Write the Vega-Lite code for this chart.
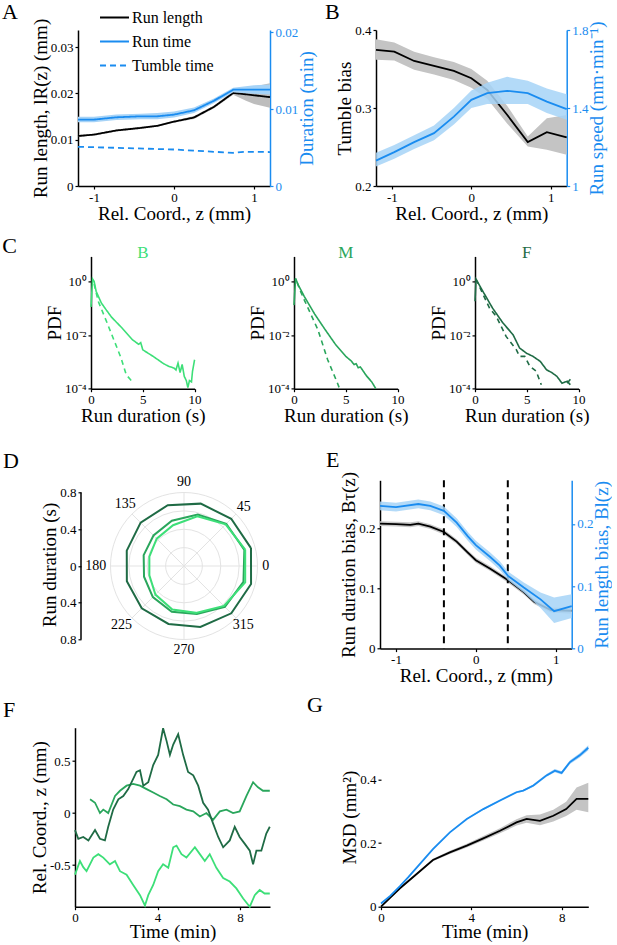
{
  "$schema": "https://vega.github.io/schema/vega-lite/v6.json",
  "padding": {"left": 2, "top": 0, "right": 0, "bottom": 0},
  "datasets": {
    "a": [
      {"s": "Run length", "x": -1.2, "y": 0.0108, "lo": 0.0106, "hi": 0.011},
      {"s": "Run length", "x": -1.0, "y": 0.0111, "lo": 0.0109, "hi": 0.0113},
      {"s": "Run length", "x": -0.72, "y": 0.012, "lo": 0.0118, "hi": 0.0122},
      {"s": "Run length", "x": -0.42, "y": 0.01254, "lo": 0.0123, "hi": 0.0128},
      {"s": "Run length", "x": -0.21, "y": 0.013, "lo": 0.0128, "hi": 0.0132},
      {"s": "Run length", "x": 0, "y": 0.0139, "lo": 0.0137, "hi": 0.0141},
      {"s": "Run length", "x": 0.25, "y": 0.0148, "lo": 0.0145, "hi": 0.0151},
      {"s": "Run length", "x": 0.5, "y": 0.0171, "lo": 0.0168, "hi": 0.0174},
      {"s": "Run length", "x": 0.74, "y": 0.0201, "lo": 0.0197, "hi": 0.0205},
      {"s": "Run length", "x": 0.9, "y": 0.0198, "lo": 0.0184, "hi": 0.021},
      {"s": "Run length", "x": 1.0, "y": 0.0196, "lo": 0.0177, "hi": 0.0215},
      {"s": "Run length", "x": 1.2, "y": 0.0192, "lo": 0.0169, "hi": 0.0222},
      {"s": "Run time", "x": -1.2, "y": 0.00864, "lo": 0.0083, "hi": 0.009},
      {"s": "Run time", "x": -1.0, "y": 0.00864, "lo": 0.0083, "hi": 0.009},
      {"s": "Run time", "x": -0.72, "y": 0.00894, "lo": 0.0086, "hi": 0.0093},
      {"s": "Run time", "x": -0.42, "y": 0.00907, "lo": 0.0087, "hi": 0.0094},
      {"s": "Run time", "x": -0.21, "y": 0.00907, "lo": 0.0087, "hi": 0.0095},
      {"s": "Run time", "x": 0, "y": 0.00929, "lo": 0.0089, "hi": 0.0097},
      {"s": "Run time", "x": 0.25, "y": 0.00985, "lo": 0.0095, "hi": 0.0102},
      {"s": "Run time", "x": 0.5, "y": 0.0111, "lo": 0.0108, "hi": 0.0114},
      {"s": "Run time", "x": 0.74, "y": 0.01253, "lo": 0.0122, "hi": 0.0128},
      {"s": "Run time", "x": 1.0, "y": 0.01253, "lo": 0.012, "hi": 0.0131},
      {"s": "Run time", "x": 1.2, "y": 0.01253, "lo": 0.0119, "hi": 0.0132},
      {"s": "Tumble time", "x": -1.2, "y": 0.0051},
      {"s": "Tumble time", "x": -0.72, "y": 0.00497},
      {"s": "Tumble time", "x": 0, "y": 0.00475},
      {"s": "Tumble time", "x": 0.5, "y": 0.00445},
      {"s": "Tumble time", "x": 0.74, "y": 0.00432},
      {"s": "Tumble time", "x": 0.9, "y": 0.00445},
      {"s": "Tumble time", "x": 1.2, "y": 0.00442}
    ],
    "b": [
      {"s": "bias", "x": -1.2, "y": 0.3744, "lo": 0.362, "hi": 0.388},
      {"s": "bias", "x": -0.97, "y": 0.3723, "lo": 0.361, "hi": 0.384},
      {"s": "bias", "x": -0.72, "y": 0.3603, "lo": 0.349, "hi": 0.372},
      {"s": "bias", "x": -0.47, "y": 0.354, "lo": 0.343, "hi": 0.365},
      {"s": "bias", "x": -0.22, "y": 0.3476, "lo": 0.336, "hi": 0.359},
      {"s": "bias", "x": 0, "y": 0.3382, "lo": 0.326, "hi": 0.35},
      {"s": "bias", "x": 0.2, "y": 0.3232, "lo": 0.312, "hi": 0.335},
      {"s": "bias", "x": 0.45, "y": 0.2913, "lo": 0.28, "hi": 0.303},
      {"s": "bias", "x": 0.71, "y": 0.2563, "lo": 0.2507, "hi": 0.2635},
      {"s": "bias", "x": 0.95, "y": 0.2691, "lo": 0.2465, "hi": 0.287},
      {"s": "bias", "x": 1.2, "y": 0.2623, "lo": 0.24, "hi": 0.291},
      {"s": "speed", "x": -1.2, "y": 1.13, "lo": 1.1, "hi": 1.17},
      {"s": "speed", "x": -0.97, "y": 1.174, "lo": 1.14, "hi": 1.21},
      {"s": "speed", "x": -0.72, "y": 1.225, "lo": 1.19, "hi": 1.26},
      {"s": "speed", "x": -0.47, "y": 1.271, "lo": 1.235, "hi": 1.31},
      {"s": "speed", "x": -0.22, "y": 1.356, "lo": 1.315, "hi": 1.4},
      {"s": "speed", "x": 0, "y": 1.442, "lo": 1.4, "hi": 1.49},
      {"s": "speed", "x": 0.2, "y": 1.476, "lo": 1.42, "hi": 1.53},
      {"s": "speed", "x": 0.45, "y": 1.488, "lo": 1.42, "hi": 1.56},
      {"s": "speed", "x": 0.71, "y": 1.476, "lo": 1.42, "hi": 1.54},
      {"s": "speed", "x": 0.95, "y": 1.433, "lo": 1.375, "hi": 1.5},
      {"s": "speed", "x": 1.2, "y": 1.394, "lo": 1.34, "hi": 1.47}
    ],
    "c": [
      {"z": "B", "k": "run", "g": 1, "x": 0, "p": 0.11},
      {"z": "B", "k": "run", "g": 1, "x": 0.15, "p": 1.22},
      {"z": "B", "k": "run", "g": 1, "x": 0.3, "p": 1.0},
      {"z": "B", "k": "run", "g": 1, "x": 0.5, "p": 0.42},
      {"z": "B", "k": "run", "g": 1, "x": 1, "p": 0.156},
      {"z": "B", "k": "run", "g": 1, "x": 1.5, "p": 0.083},
      {"z": "B", "k": "run", "g": 1, "x": 2, "p": 0.0455},
      {"z": "B", "k": "run", "g": 1, "x": 3, "p": 0.0182},
      {"z": "B", "k": "run", "g": 1, "x": 4, "p": 0.0067},
      {"z": "B", "k": "run", "g": 1, "x": 4.6, "p": 0.0045},
      {"z": "B", "k": "run", "g": 1, "x": 4.8, "p": 0.0052},
      {"z": "B", "k": "run", "g": 1, "x": 5, "p": 0.0028},
      {"z": "B", "k": "run", "g": 1, "x": 6, "p": 0.0016},
      {"z": "B", "k": "run", "g": 1, "x": 7, "p": 0.00086},
      {"z": "B", "k": "run", "g": 1, "x": 7.5, "p": 0.00068},
      {"z": "B", "k": "run", "g": 1, "x": 8, "p": 0.00059},
      {"z": "B", "k": "run", "g": 1, "x": 8.2, "p": 0.0005},
      {"z": "B", "k": "run", "g": 1, "x": 8.4, "p": 0.0009},
      {"z": "B", "k": "run", "g": 1, "x": 8.6, "p": 0.0004},
      {"z": "B", "k": "run", "g": 1, "x": 8.8, "p": 0.0008},
      {"z": "B", "k": "run", "g": 1, "x": 9.0, "p": 0.00029},
      {"z": "B", "k": "run", "g": 1, "x": 9.2, "p": 0.0002},
      {"z": "B", "k": "run", "g": 1, "x": 9.35, "p": 0.00011},
      {"z": "B", "k": "run", "g": 1, "x": 9.5, "p": 0.0002},
      {"z": "B", "k": "run", "g": 1, "x": 9.7, "p": 0.00018},
      {"z": "B", "k": "run", "g": 1, "x": 9.8, "p": 0.00045},
      {"z": "B", "k": "run", "g": 1, "x": 10, "p": 0.0012},
      {"z": "B", "k": "tumble", "g": 2, "x": 0.3, "p": 0.8},
      {"z": "B", "k": "tumble", "g": 2, "x": 0.7, "p": 0.18},
      {"z": "B", "k": "tumble", "g": 2, "x": 1.5, "p": 0.032},
      {"z": "B", "k": "tumble", "g": 2, "x": 2.2, "p": 0.0067},
      {"z": "B", "k": "tumble", "g": 2, "x": 2.9, "p": 0.0014},
      {"z": "B", "k": "tumble", "g": 2, "x": 3.4, "p": 0.00033},
      {"z": "B", "k": "tumble", "g": 2, "x": 3.8, "p": 0.00022},
      {"z": "B", "k": "tumble", "g": 2, "x": 4.1, "p": 0.00016},
      {"z": "M", "k": "run", "g": 1, "x": 0, "p": 0.13},
      {"z": "M", "k": "run", "g": 1, "x": 0.15, "p": 1.3},
      {"z": "M", "k": "run", "g": 1, "x": 0.4, "p": 0.75},
      {"z": "M", "k": "run", "g": 1, "x": 1, "p": 0.27},
      {"z": "M", "k": "run", "g": 1, "x": 2, "p": 0.06},
      {"z": "M", "k": "run", "g": 1, "x": 3, "p": 0.016},
      {"z": "M", "k": "run", "g": 1, "x": 4, "p": 0.0045},
      {"z": "M", "k": "run", "g": 1, "x": 5, "p": 0.0016},
      {"z": "M", "k": "run", "g": 1, "x": 5.5, "p": 0.0011},
      {"z": "M", "k": "run", "g": 1, "x": 5.8, "p": 0.0008},
      {"z": "M", "k": "run", "g": 1, "x": 6.0, "p": 0.00085},
      {"z": "M", "k": "run", "g": 1, "x": 6.2, "p": 0.0006},
      {"z": "M", "k": "run", "g": 1, "x": 6.4, "p": 0.00065},
      {"z": "M", "k": "run", "g": 1, "x": 7, "p": 0.0003},
      {"z": "M", "k": "run", "g": 1, "x": 7.5, "p": 0.00018},
      {"z": "M", "k": "run", "g": 1, "x": 7.9, "p": 0.0001},
      {"z": "M", "k": "tumble", "g": 2, "x": 0.3, "p": 0.9},
      {"z": "M", "k": "tumble", "g": 2, "x": 0.6, "p": 0.45},
      {"z": "M", "k": "tumble", "g": 2, "x": 1, "p": 0.2},
      {"z": "M", "k": "tumble", "g": 2, "x": 2.3, "p": 0.016},
      {"z": "M", "k": "tumble", "g": 2, "x": 3.25, "p": 0.0012},
      {"z": "M", "k": "tumble", "g": 2, "x": 4.2, "p": 0.00016},
      {"z": "M", "k": "tumble", "g": 2, "x": 4.4, "p": 0.0001},
      {"z": "F", "k": "run", "g": 1, "x": 0, "p": 0.18},
      {"z": "F", "k": "run", "g": 1, "x": 0.1, "p": 1.2},
      {"z": "F", "k": "run", "g": 1, "x": 0.75, "p": 0.43},
      {"z": "F", "k": "run", "g": 1, "x": 1.7, "p": 0.1},
      {"z": "F", "k": "run", "g": 1, "x": 2.7, "p": 0.028},
      {"z": "F", "k": "run", "g": 1, "x": 3.67, "p": 0.0103},
      {"z": "F", "k": "run", "g": 1, "x": 4.3, "p": 0.0033},
      {"z": "F", "k": "run", "g": 1, "x": 4.97, "p": 0.0021},
      {"z": "F", "k": "run", "g": 1, "x": 5.6, "p": 0.0016},
      {"z": "F", "k": "run", "g": 1, "x": 6.3, "p": 0.00104},
      {"z": "F", "k": "run", "g": 1, "x": 6.9, "p": 0.00051},
      {"z": "F", "k": "run", "g": 1, "x": 7.4, "p": 0.0004},
      {"z": "F", "k": "run", "g": 1, "x": 7.9, "p": 0.00029},
      {"z": "F", "k": "run", "g": 1, "x": 8.4, "p": 0.00016},
      {"z": "F", "k": "run", "g": 1, "x": 8.9, "p": 0.00019},
      {"z": "F", "k": "run", "g": 1, "x": 9.2, "p": 0.00014},
      {"z": "F", "k": "tumble", "g": 2, "x": 0.1, "p": 1.2},
      {"z": "F", "k": "tumble", "g": 2, "x": 1.4, "p": 0.1},
      {"z": "F", "k": "tumble", "g": 2, "x": 2.05, "p": 0.05},
      {"z": "F", "k": "tumble", "g": 2, "x": 3.0, "p": 0.0089},
      {"z": "F", "k": "tumble", "g": 2, "x": 4.0, "p": 0.0028},
      {"z": "F", "k": "tumble", "g": 2, "x": 4.3, "p": 0.0016},
      {"z": "F", "k": "tumble", "g": 2, "x": 4.8, "p": 0.0016},
      {"z": "F", "k": "tumble", "g": 2, "x": 5.3, "p": 0.00068},
      {"z": "F", "k": "tumble", "g": 2, "x": 5.9, "p": 0.00045},
      {"z": "F", "k": "tumble", "g": 2, "x": 6.4, "p": 0.00014},
      {"z": "F", "k": "tumble", "g": 3, "x": 8.9, "p": 0.00016},
      {"z": "F", "k": "tumble", "g": 3, "x": 9.45, "p": 0.00029}
    ],
    "d_grid": [{"r": 0.2}, {"r": 0.4}, {"r": 0.6}, {"r": 0.8}],
    "d_spoke": [
      {"x": -0.8, "y": 0, "x2": 0.8, "y2": 0},
      {"x": 0, "y": -0.8, "x2": 0, "y2": 0.8},
      {"x": -0.566, "y": -0.566, "x2": 0.566, "y2": 0.566},
      {"x": -0.566, "y": 0.566, "x2": 0.566, "y2": -0.566}
    ],
    "d_poly": [
      {"z": "F", "k": 0, "x": 0.729, "y": 0.195}, {"z": "F", "k": 1, "x": 0.514, "y": 0.514},
      {"z": "F", "k": 2, "x": 0.182, "y": 0.679}, {"z": "F", "k": 3, "x": -0.177, "y": 0.662},
      {"z": "F", "k": 4, "x": -0.472, "y": 0.472}, {"z": "F", "k": 5, "x": -0.623, "y": 0.167},
      {"z": "F", "k": 6, "x": -0.622, "y": -0.167}, {"z": "F", "k": 7, "x": -0.46, "y": -0.46},
      {"z": "F", "k": 8, "x": -0.169, "y": -0.631}, {"z": "F", "k": 9, "x": 0.178, "y": -0.664},
      {"z": "F", "k": 10, "x": 0.515, "y": -0.515}, {"z": "F", "k": 11, "x": 0.73, "y": -0.196},
      {"z": "F", "k": 12, "x": 0.729, "y": 0.195},
      {"z": "M", "k": 0, "x": 0.657, "y": 0.176}, {"z": "M", "k": 1, "x": 0.46, "y": 0.46},
      {"z": "M", "k": 2, "x": 0.15, "y": 0.56}, {"z": "M", "k": 3, "x": -0.132, "y": 0.493},
      {"z": "M", "k": 4, "x": -0.332, "y": 0.332}, {"z": "M", "k": 5, "x": -0.439, "y": 0.118},
      {"z": "M", "k": 6, "x": -0.435, "y": -0.116}, {"z": "M", "k": 7, "x": -0.339, "y": -0.339},
      {"z": "M", "k": 8, "x": -0.133, "y": -0.497}, {"z": "M", "k": 9, "x": 0.14, "y": -0.522},
      {"z": "M", "k": 10, "x": 0.445, "y": -0.445}, {"z": "M", "k": 11, "x": 0.647, "y": -0.173},
      {"z": "M", "k": 12, "x": 0.657, "y": 0.176},
      {"z": "B", "k": 0, "x": 0.666, "y": 0.179}, {"z": "B", "k": 1, "x": 0.453, "y": 0.453},
      {"z": "B", "k": 2, "x": 0.145, "y": 0.541}, {"z": "B", "k": 3, "x": -0.119, "y": 0.444},
      {"z": "B", "k": 4, "x": -0.297, "y": 0.297}, {"z": "B", "k": 5, "x": -0.377, "y": 0.101},
      {"z": "B", "k": 6, "x": -0.377, "y": -0.101}, {"z": "B", "k": 7, "x": -0.311, "y": -0.311},
      {"z": "B", "k": 8, "x": -0.127, "y": -0.473}, {"z": "B", "k": 9, "x": 0.13, "y": -0.51},
      {"z": "B", "k": 10, "x": 0.435, "y": -0.435}, {"z": "B", "k": 11, "x": 0.666, "y": -0.179},
      {"z": "B", "k": 12, "x": 0.666, "y": 0.179}
    ],
    "d_lab": [
      {"a": "0", "x": 0.89, "y": 0}, {"a": "45", "x": 0.65, "y": 0.64},
      {"a": "90", "x": 0, "y": 0.91}, {"a": "135", "x": -0.64, "y": 0.68},
      {"a": "180", "x": -0.96, "y": 0}, {"a": "225", "x": -0.68, "y": -0.645},
      {"a": "270", "x": 0, "y": -0.91}, {"a": "315", "x": 0.645, "y": -0.645}
    ],
    "e": [
      {"s": "dur", "x": -1.2, "y": 0.208, "lo": 0.204, "hi": 0.212},
      {"s": "dur", "x": -1.0, "y": 0.207, "lo": 0.203, "hi": 0.211},
      {"s": "dur", "x": -0.82, "y": 0.206, "lo": 0.202, "hi": 0.21},
      {"s": "dur", "x": -0.72, "y": 0.208, "lo": 0.204, "hi": 0.212},
      {"s": "dur", "x": -0.57, "y": 0.203, "lo": 0.199, "hi": 0.207},
      {"s": "dur", "x": -0.4, "y": 0.194, "lo": 0.19, "hi": 0.198},
      {"s": "dur", "x": -0.24, "y": 0.178, "lo": 0.174, "hi": 0.182},
      {"s": "dur", "x": -0.11, "y": 0.161, "lo": 0.157, "hi": 0.165},
      {"s": "dur", "x": 0, "y": 0.147, "lo": 0.143, "hi": 0.151},
      {"s": "dur", "x": 0.18, "y": 0.133, "lo": 0.129, "hi": 0.137},
      {"s": "dur", "x": 0.4, "y": 0.114, "lo": 0.11, "hi": 0.118},
      {"s": "dur", "x": 0.6, "y": 0.094, "lo": 0.09, "hi": 0.098},
      {"s": "dur", "x": 0.73, "y": 0.078, "lo": 0.074, "hi": 0.082},
      {"s": "dur", "x": 0.94, "y": 0.064, "lo": 0.06, "hi": 0.068},
      {"s": "dur", "x": 1.2, "y": 0.063, "lo": 0.058, "hi": 0.068},
      {"s": "len", "x": -1.2, "y": 0.229, "lo": 0.222, "hi": 0.236},
      {"s": "len", "x": -1.0, "y": 0.227, "lo": 0.22, "hi": 0.234},
      {"s": "len", "x": -0.72, "y": 0.232, "lo": 0.225, "hi": 0.239},
      {"s": "len", "x": -0.57, "y": 0.229, "lo": 0.222, "hi": 0.236},
      {"s": "len", "x": -0.4, "y": 0.221, "lo": 0.214, "hi": 0.228},
      {"s": "len", "x": -0.24, "y": 0.202, "lo": 0.195, "hi": 0.209},
      {"s": "len", "x": -0.1, "y": 0.18, "lo": 0.173, "hi": 0.187},
      {"s": "len", "x": 0, "y": 0.166, "lo": 0.159, "hi": 0.173},
      {"s": "len", "x": 0.18, "y": 0.147, "lo": 0.14, "hi": 0.154},
      {"s": "len", "x": 0.3, "y": 0.133, "lo": 0.126, "hi": 0.14},
      {"s": "len", "x": 0.4, "y": 0.117, "lo": 0.11, "hi": 0.124},
      {"s": "len", "x": 0.6, "y": 0.098, "lo": 0.09, "hi": 0.106},
      {"s": "len", "x": 0.81, "y": 0.079, "lo": 0.065, "hi": 0.09},
      {"s": "len", "x": 0.98, "y": 0.06, "lo": 0.041, "hi": 0.082},
      {"s": "len", "x": 1.2, "y": 0.068, "lo": 0.049, "hi": 0.087}
    ],
    "e_div": [{"x": -0.4}, {"x": 0.4}],
    "f": [
      {"z": "B", "t": 0, "y": -0.592}, {"z": "B", "t": 0.24, "y": -0.461}, {"z": "B", "t": 0.4, "y": -0.52},
      {"z": "B", "t": 0.56, "y": -0.559}, {"z": "B", "t": 0.89, "y": -0.428}, {"z": "B", "t": 1.13, "y": -0.395},
      {"z": "B", "t": 1.37, "y": -0.428}, {"z": "B", "t": 1.69, "y": -0.493}, {"z": "B", "t": 1.94, "y": -0.461},
      {"z": "B", "t": 2.18, "y": -0.559}, {"z": "B", "t": 2.5, "y": -0.592}, {"z": "B", "t": 2.82, "y": -0.691},
      {"z": "B", "t": 3.15, "y": -0.789}, {"z": "B", "t": 3.39, "y": -0.888}, {"z": "B", "t": 3.55, "y": -0.789},
      {"z": "B", "t": 3.79, "y": -0.691}, {"z": "B", "t": 4.03, "y": -0.559}, {"z": "B", "t": 4.27, "y": -0.493},
      {"z": "B", "t": 4.52, "y": -0.526}, {"z": "B", "t": 4.76, "y": -0.329}, {"z": "B", "t": 4.92, "y": -0.313},
      {"z": "B", "t": 5.16, "y": -0.395}, {"z": "B", "t": 5.4, "y": -0.428}, {"z": "B", "t": 5.81, "y": -0.329},
      {"z": "B", "t": 6.05, "y": -0.395}, {"z": "B", "t": 6.29, "y": -0.461}, {"z": "B", "t": 6.53, "y": -0.395},
      {"z": "B", "t": 6.85, "y": -0.526}, {"z": "B", "t": 7.18, "y": -0.625}, {"z": "B", "t": 7.5, "y": -0.658},
      {"z": "B", "t": 7.82, "y": -0.724}, {"z": "B", "t": 8.15, "y": -0.822}, {"z": "B", "t": 8.47, "y": -0.9},
      {"z": "B", "t": 8.71, "y": -0.789}, {"z": "B", "t": 8.95, "y": -0.74}, {"z": "B", "t": 9.19, "y": -0.773},
      {"z": "B", "t": 9.44, "y": -0.773},
      {"z": "M", "t": 0.73, "y": 0.132}, {"z": "M", "t": 0.97, "y": 0.099}, {"z": "M", "t": 1.21, "y": 0.0},
      {"z": "M", "t": 1.37, "y": 0.033}, {"z": "M", "t": 1.61, "y": 0}, {"z": "M", "t": 1.94, "y": 0.164},
      {"z": "M", "t": 2.18, "y": 0.214}, {"z": "M", "t": 2.5, "y": 0.263}, {"z": "M", "t": 2.82, "y": 0.28},
      {"z": "M", "t": 3.15, "y": 0.263}, {"z": "M", "t": 3.47, "y": 0.23}, {"z": "M", "t": 3.79, "y": 0.197},
      {"z": "M", "t": 4.11, "y": 0.164}, {"z": "M", "t": 4.44, "y": 0.132}, {"z": "M", "t": 4.76, "y": 0.082},
      {"z": "M", "t": 5.08, "y": 0.066}, {"z": "M", "t": 5.4, "y": 0.033}, {"z": "M", "t": 5.73, "y": 0.016},
      {"z": "M", "t": 6.05, "y": -0.033}, {"z": "M", "t": 6.37, "y": 0}, {"z": "M", "t": 6.69, "y": -0.066},
      {"z": "M", "t": 7.02, "y": 0.016}, {"z": "M", "t": 7.34, "y": 0.033}, {"z": "M", "t": 7.66, "y": 0},
      {"z": "M", "t": 7.98, "y": 0.016}, {"z": "M", "t": 8.31, "y": 0.164}, {"z": "M", "t": 8.63, "y": 0.296},
      {"z": "M", "t": 8.87, "y": 0.247}, {"z": "M", "t": 9.11, "y": 0.214}, {"z": "M", "t": 9.44, "y": 0.214},
      {"z": "F", "t": 0, "y": -0.164}, {"z": "F", "t": 0.16, "y": -0.247}, {"z": "F", "t": 0.4, "y": -0.23},
      {"z": "F", "t": 0.65, "y": -0.263}, {"z": "F", "t": 0.97, "y": -0.164}, {"z": "F", "t": 1.21, "y": -0.247},
      {"z": "F", "t": 1.45, "y": -0.263}, {"z": "F", "t": 1.61, "y": -0.132}, {"z": "F", "t": 1.85, "y": 0.033},
      {"z": "F", "t": 2.1, "y": 0.132}, {"z": "F", "t": 2.34, "y": 0.164}, {"z": "F", "t": 2.58, "y": 0.23},
      {"z": "F", "t": 2.82, "y": 0.329}, {"z": "F", "t": 2.98, "y": 0.395}, {"z": "F", "t": 3.15, "y": 0.411},
      {"z": "F", "t": 3.31, "y": 0.263}, {"z": "F", "t": 3.55, "y": 0.296}, {"z": "F", "t": 3.79, "y": 0.461},
      {"z": "F", "t": 4.03, "y": 0.559}, {"z": "F", "t": 4.27, "y": 0.815}, {"z": "F", "t": 4.44, "y": 0.691},
      {"z": "F", "t": 4.6, "y": 0.559}, {"z": "F", "t": 4.76, "y": 0.658}, {"z": "F", "t": 5.0, "y": 0.757},
      {"z": "F", "t": 5.24, "y": 0.559}, {"z": "F", "t": 5.48, "y": 0.395}, {"z": "F", "t": 5.73, "y": 0.362},
      {"z": "F", "t": 5.97, "y": 0.263}, {"z": "F", "t": 6.21, "y": 0.099}, {"z": "F", "t": 6.45, "y": 0.033},
      {"z": "F", "t": 6.69, "y": -0.099}, {"z": "F", "t": 6.94, "y": -0.23}, {"z": "F", "t": 7.18, "y": -0.329},
      {"z": "F", "t": 7.5, "y": -0.263}, {"z": "F", "t": 7.74, "y": -0.132}, {"z": "F", "t": 7.98, "y": -0.23},
      {"z": "F", "t": 8.23, "y": -0.296}, {"z": "F", "t": 8.47, "y": -0.362}, {"z": "F", "t": 8.63, "y": -0.493},
      {"z": "F", "t": 8.79, "y": -0.362}, {"z": "F", "t": 9.03, "y": -0.362}, {"z": "F", "t": 9.27, "y": -0.197},
      {"z": "F", "t": 9.44, "y": -0.132}
    ],
    "g": [
      {"s": "len", "t": 0, "y": 0.01, "lo": 0.008, "hi": 0.012},
      {"s": "len", "t": 0.42, "y": 0.035, "lo": 0.033, "hi": 0.037},
      {"s": "len", "t": 0.84, "y": 0.065, "lo": 0.063, "hi": 0.067},
      {"s": "len", "t": 1.2, "y": 0.092, "lo": 0.09, "hi": 0.094},
      {"s": "len", "t": 1.58, "y": 0.123, "lo": 0.121, "hi": 0.125},
      {"s": "len", "t": 2.3, "y": 0.181, "lo": 0.179, "hi": 0.183},
      {"s": "len", "t": 3.05, "y": 0.234, "lo": 0.232, "hi": 0.236},
      {"s": "len", "t": 3.8, "y": 0.276, "lo": 0.274, "hi": 0.278},
      {"s": "len", "t": 4.53, "y": 0.307, "lo": 0.304, "hi": 0.31},
      {"s": "len", "t": 5.27, "y": 0.334, "lo": 0.331, "hi": 0.337},
      {"s": "len", "t": 6.0, "y": 0.36, "lo": 0.357, "hi": 0.363},
      {"s": "len", "t": 6.3, "y": 0.365, "lo": 0.362, "hi": 0.368},
      {"s": "len", "t": 6.75, "y": 0.381, "lo": 0.377, "hi": 0.385},
      {"s": "len", "t": 7.33, "y": 0.413, "lo": 0.409, "hi": 0.417},
      {"s": "len", "t": 7.7, "y": 0.428, "lo": 0.423, "hi": 0.433},
      {"s": "len", "t": 8.0, "y": 0.421, "lo": 0.416, "hi": 0.426},
      {"s": "len", "t": 8.37, "y": 0.455, "lo": 0.449, "hi": 0.461},
      {"s": "len", "t": 8.8, "y": 0.476, "lo": 0.469, "hi": 0.483},
      {"s": "len", "t": 9.18, "y": 0.5, "lo": 0.492, "hi": 0.508},
      {"s": "dur", "t": 0, "y": 0.0, "lo": 0.0, "hi": 0.0},
      {"s": "dur", "t": 0.4, "y": 0.028, "lo": 0.026, "hi": 0.03},
      {"s": "dur", "t": 0.84, "y": 0.058, "lo": 0.055, "hi": 0.061},
      {"s": "dur", "t": 1.58, "y": 0.103, "lo": 0.1, "hi": 0.106},
      {"s": "dur", "t": 2.3, "y": 0.147, "lo": 0.143, "hi": 0.151},
      {"s": "dur", "t": 3.05, "y": 0.171, "lo": 0.166, "hi": 0.176},
      {"s": "dur", "t": 3.8, "y": 0.192, "lo": 0.186, "hi": 0.198},
      {"s": "dur", "t": 4.53, "y": 0.215, "lo": 0.208, "hi": 0.222},
      {"s": "dur", "t": 5.27, "y": 0.239, "lo": 0.231, "hi": 0.247},
      {"s": "dur", "t": 6.0, "y": 0.265, "lo": 0.255, "hi": 0.275},
      {"s": "dur", "t": 6.45, "y": 0.276, "lo": 0.264, "hi": 0.288},
      {"s": "dur", "t": 7.04, "y": 0.27, "lo": 0.256, "hi": 0.29},
      {"s": "dur", "t": 7.63, "y": 0.286, "lo": 0.268, "hi": 0.305},
      {"s": "dur", "t": 8.2, "y": 0.307, "lo": 0.285, "hi": 0.33},
      {"s": "dur", "t": 8.66, "y": 0.339, "lo": 0.305, "hi": 0.375},
      {"s": "dur", "t": 9.18, "y": 0.339, "lo": 0.297, "hi": 0.39}
    ]
  },
  "spacing": 23.3,
  "align": "none",
  "resolve": {"scale": {"color": "independent", "strokeDash": "independent", "size": "independent"}},
  "vconcat": [
    {
      "spacing": 12.4,
      "align": "none",
      "resolve": {"scale": {"color": "independent", "strokeDash": "independent", "size": "independent"}},
      "vconcat": [
        {
          "bounds": "flush",
          "spacing": 0,
          "resolve": {"scale": {"color": "independent", "strokeDash": "independent", "size": "independent"}},
          "hconcat": [
            {"width": 3, "height": 10, "data": {"values": []}, "mark": "point"},
            {
              "width": 192,
              "height": 156,
              "title": {"text": "A", "dx": -76, "offset": -21.5},
              "data": {"name": "a"},
              "encoding": {
                "x": {"field": "x", "type": "quantitative", "scale": {"domain": [-1.2, 1.2], "nice": false},
                  "axis": {"values": [-1, 0, 1], "labelExpr": "toString(datum.value)", "title": "Rel. Coord., z (mm)"}}
              },
              "layer": [
                {
                  "transform": [{"filter": "datum.s == 'Run length'"}],
                  "encoding": {
                    "y": {"field": "y", "type": "quantitative", "scale": {"domain": [0, 0.0337], "nice": false},
                      "axis": {"values": [0, 0.01, 0.02, 0.03], "format": "~g", "title": "Run length, lR(z) (mm)"}}
                  },
                  "layer": [
                    {"mark": {"type": "area", "color": "#bdbdbd"}, "encoding": {"y": {"field": "lo", "type": "quantitative"}, "y2": {"field": "hi"}}},
                    {"mark": {"type": "line", "strokeWidth": 1.8},
                      "encoding": {
                        "color": {"field": "s", "type": "nominal", "scale": {"domain": ["Run length", "Run time", "Tumble time"], "range": ["#000000", "#1a8cf0", "#1a8cf0"]},
                          "legend": {"orient": "none", "legendX": 21, "legendY": -28, "title": null, "symbolType": "stroke", "symbolSize": 840, "symbolStrokeWidth": 2, "symbolOpacity": 1, "labelFontSize": 16, "labelFont": "Liberation Serif", "rowPadding": 0, "labelOffset": 2, "padding": 0}},
                        "strokeDash": {"field": "s", "type": "nominal", "scale": {"domain": ["Run length", "Run time", "Tumble time"], "range": [[1, 0], [1, 0], [6, 4]]},
                          "legend": {"orient": "none", "legendX": 21, "legendY": -28, "title": null, "symbolType": "stroke", "symbolSize": 840, "symbolStrokeWidth": 2, "symbolOpacity": 1, "labelFontSize": 16, "labelFont": "Liberation Serif", "rowPadding": 0, "labelOffset": 2, "padding": 0}}
                      }}
                  ]
                },
                {
                  "encoding": {
                    "y": {"field": "y", "type": "quantitative", "scale": {"domain": [0, 0.0203], "nice": false},
                      "axis": {"orient": "right", "values": [0, 0.01, 0.02], "format": "~g", "title": "Duration (min)", "titleAngle": 270, "titleBaseline": "top",
                        "labelColor": "#1a8cf0", "titleColor": "#1a8cf0", "domainColor": "#1a8cf0", "tickColor": "#1a8cf0"}}
                  },
                  "layer": [
                    {"transform": [{"filter": "datum.s == 'Run time'"}], "mark": {"type": "area", "color": "#a6d3f7"},
                      "encoding": {"y": {"field": "lo", "type": "quantitative"}, "y2": {"field": "hi"}}},
                    {"transform": [{"filter": "datum.s != 'Run length'"}], "mark": {"type": "line", "strokeWidth": 1.8},
                      "encoding": {
                        "color": {"field": "s", "type": "nominal"},
                        "strokeDash": {"field": "s", "type": "nominal"}
                      }}
                  ]
                }
              ],
              "resolve": {"scale": {"y": "independent"}}
            },
            {"width": 106, "height": 10, "data": {"values": []}, "mark": "point"},
            {
              "width": 190.7,
              "height": 156,
              "title": {"text": "B", "dx": -51, "offset": -3.5},
              "data": {"name": "b"},
              "encoding": {
                "x": {"field": "x", "type": "quantitative", "scale": {"domain": [-1.2, 1.2], "nice": false},
                  "axis": {"values": [-1, 0, 1], "labelExpr": "toString(datum.value)", "title": "Rel. Coord., z (mm)"}}
              },
              "layer": [
                {
                  "transform": [{"filter": "datum.s == 'bias'"}],
                  "encoding": {
                    "y": {"field": "y", "type": "quantitative", "scale": {"domain": [0.2, 0.4], "nice": false, "zero": false},
                      "axis": {"values": [0.2, 0.3, 0.4], "format": "~g", "title": "Tumble bias"}}
                  },
                  "layer": [
                    {"mark": {"type": "area", "color": "#c4c4c4"}, "encoding": {"y": {"field": "lo", "type": "quantitative"}, "y2": {"field": "hi"}}},
                    {"mark": {"type": "line", "color": "#000000", "strokeWidth": 1.8}}
                  ]
                },
                {
                  "transform": [{"filter": "datum.s == 'speed'"}],
                  "encoding": {
                    "y": {"field": "y", "type": "quantitative", "scale": {"domain": [1, 1.8], "nice": false, "zero": false},
                      "axis": {"orient": "right", "values": [1, 1.4, 1.8], "format": "~g", "title": "Run speed (mm·min⁻¹)", "titleAngle": 270, "titleBaseline": "top",
                        "labelColor": "#1a8cf0", "titleColor": "#1a8cf0", "domainColor": "#1a8cf0", "tickColor": "#1a8cf0"}}
                  },
                  "layer": [
                    {"mark": {"type": "area", "color": "#a6d3f7", "opacity": 0.85}, "encoding": {"y": {"field": "lo", "type": "quantitative"}, "y2": {"field": "hi"}}},
                    {"mark": {"type": "line", "color": "#1a8cf0", "strokeWidth": 1.8}}
                  ]
                }
              ],
              "resolve": {"scale": {"y": "independent"}}
            }
          ]
        },
        {
          "bounds": "flush",
          "spacing": 0,
          "resolve": {"scale": {"color": "independent", "strokeDash": "independent", "size": "independent"}},
          "hconcat": [
            {"width": 15.7, "height": 10, "data": {"values": []}, "mark": "point"},
            {
              "width": 103.6,
              "height": 132.3,
              "title": {"text": "C", "dx": -88.7, "offset": -14},
              "layer": [
                {
                  "data": {"name": "c"},
                  "transform": [{"filter": "datum.z == 'B'"}],
                  "mark": {"type": "line", "color": "#3ddf78", "strokeWidth": 1.6},
                  "encoding": {
                    "x": {"field": "x", "type": "quantitative", "scale": {"domain": [0, 10], "nice": false}, "axis": {"values": [0, 5, 10], "title": "Run duration (s)"}},
                    "y": {"field": "p", "type": "quantitative", "scale": {"type": "log", "domain": [0.0001, 8.5], "nice": false},
                      "axis": {"values": [0.0001, 0.01, 1], "labelExpr": "datum.value == 1 ? '10⁰' : datum.value == 0.01 ? '10⁻²' : '10⁻⁴'", "title": "PDF"}},
                    "strokeDash": {"field": "k", "type": "nominal", "scale": {"domain": ["run", "tumble"], "range": [[1, 0], [5, 4]]}, "legend": null},
                    "detail": {"field": "g"}
                  }
                },
                {
                  "data": {"values": [{"t": "B"}]},
                  "mark": {"type": "text", "color": "#3ddf78", "fontSize": 17, "font": "Liberation Serif", "baseline": "alphabetic", "dy": 2},
                  "encoding": {"x": {"datum": 5}, "y": {"datum": 8.5}, "text": {"field": "t"}}
                }
              ]
            },
            {"width": 99, "height": 10, "data": {"values": []}, "mark": "point"},
            {
              "width": 103.6,
              "height": 132.3,
              "layer": [
                {
                  "data": {"name": "c"},
                  "transform": [{"filter": "datum.z == 'M'"}],
                  "mark": {"type": "line", "color": "#2aa65c", "strokeWidth": 1.6},
                  "encoding": {
                    "x": {"field": "x", "type": "quantitative", "scale": {"domain": [0, 10], "nice": false}, "axis": {"values": [0, 5, 10], "title": "Run duration (s)"}},
                    "y": {"field": "p", "type": "quantitative", "scale": {"type": "log", "domain": [0.0001, 8.5], "nice": false},
                      "axis": {"values": [0.0001, 0.01, 1], "labelExpr": "datum.value == 1 ? '10⁰' : datum.value == 0.01 ? '10⁻²' : '10⁻⁴'", "title": "PDF"}},
                    "strokeDash": {"field": "k", "type": "nominal", "scale": {"domain": ["run", "tumble"], "range": [[1, 0], [5, 4]]}, "legend": null},
                    "detail": {"field": "g"}
                  }
                },
                {
                  "data": {"values": [{"t": "M"}]},
                  "mark": {"type": "text", "color": "#2aa65c", "fontSize": 17, "font": "Liberation Serif", "baseline": "alphabetic", "dy": 2},
                  "encoding": {"x": {"datum": 5}, "y": {"datum": 8.5}, "text": {"field": "t"}}
                }
              ]
            },
            {"width": 76.3, "height": 10, "data": {"values": []}, "mark": "point"},
            {
              "width": 103.6,
              "height": 132.3,
              "layer": [
                {
                  "data": {"name": "c"},
                  "transform": [{"filter": "datum.z == 'F'"}],
                  "mark": {"type": "line", "color": "#1f6b45", "strokeWidth": 1.6},
                  "encoding": {
                    "x": {"field": "x", "type": "quantitative", "scale": {"domain": [0, 10], "nice": false}, "axis": {"values": [0, 5, 10], "title": "Run duration (s)"}},
                    "y": {"field": "p", "type": "quantitative", "scale": {"type": "log", "domain": [0.0001, 8.5], "nice": false},
                      "axis": {"values": [0.0001, 0.01, 1], "labelExpr": "datum.value == 1 ? '10⁰' : datum.value == 0.01 ? '10⁻²' : '10⁻⁴'", "title": "PDF"}},
                    "strokeDash": {"field": "k", "type": "nominal", "scale": {"domain": ["run", "tumble"], "range": [[1, 0], [5, 4]]}, "legend": null},
                    "detail": {"field": "g"}
                  }
                },
                {
                  "data": {"values": [{"t": "F"}]},
                  "mark": {"type": "text", "color": "#1f6b45", "fontSize": 17, "font": "Liberation Serif", "baseline": "alphabetic", "dy": 2},
                  "encoding": {"x": {"datum": 5}, "y": {"datum": 8.5}, "text": {"field": "t"}}
                }
              ]
            }
          ]
        }
      ]
    },
    {
      "spacing": 7.4,
      "align": "none",
      "resolve": {"scale": {"color": "independent", "strokeDash": "independent", "size": "independent"}},
      "vconcat": [
        {
          "bounds": "flush",
          "spacing": 0,
          "resolve": {"scale": {"color": "independent", "strokeDash": "independent", "size": "independent"}},
          "hconcat": [
            {"width": 6, "height": 10, "data": {"values": []}, "mark": "point"},
            {
              "width": 176.5,
              "height": 168.3,
              "title": {"text": "D", "dx": -78, "offset": 2},
              "encoding": {
                "x": {"type": "quantitative", "scale": {"domain": [-1.121, 0.8], "nice": false, "zero": false}, "axis": null},
                "y": {"type": "quantitative", "scale": {"domain": [-0.899, 0.933], "nice": false, "zero": false},
                  "axis": {"values": [-0.8, -0.4, 0, 0.4, 0.8], "labelExpr": "toString(abs(datum.value))", "domain": false, "title": "Run duration (s)"}}
              },
              "layer": [
                {
                  "data": {"name": "d_grid"},
                  "mark": {"type": "point", "shape": "circle", "filled": false, "color": "#e3e3e3", "strokeWidth": 1, "opacity": 1},
                  "encoding": {
                    "x": {"datum": 0}, "y": {"datum": 0},
                    "size": {"field": "r", "type": "quantitative", "scale": {"type": "pow", "exponent": 2, "domain": [0, 0.8], "range": [0, 21621]}, "legend": null}
                  }
                },
                {
                  "data": {"name": "d_spoke"},
                  "mark": {"type": "rule", "color": "#e3e3e3", "strokeWidth": 1},
                  "encoding": {"x": {"field": "x"}, "y": {"field": "y"}, "x2": {"field": "x2"}, "y2": {"field": "y2"}}
                },
                {
                  "data": {"name": "d_poly"},
                  "mark": {"type": "line", "strokeWidth": 2},
                  "encoding": {
                    "x": {"field": "x"}, "y": {"field": "y"},
                    "order": {"field": "k", "type": "quantitative"},
                    "color": {"field": "z", "type": "nominal", "scale": {"domain": ["B", "M", "F"], "range": ["#3ddf78", "#2aa65c", "#1f6b45"]}, "legend": null}
                  }
                },
                {
                  "data": {"name": "d_lab"},
                  "mark": {"type": "text", "fontSize": 14, "font": "Liberation Serif", "color": "#000000"},
                  "encoding": {"x": {"field": "x"}, "y": {"field": "y"}, "text": {"field": "a"}}
                },
                {
                  "data": {"values": [{}]},
                  "mark": {"type": "rule", "color": "#000000", "strokeWidth": 1.5},
                  "encoding": {"x": {"datum": -1.121}, "y": {"datum": -0.8}, "y2": {"datum": 0.8}}
                }
              ]
            },
            {"width": 121.8, "height": 10, "data": {"values": []}, "mark": "point"},
            {
              "width": 191.7,
              "height": 168.3,
              "title": {"text": "E", "dx": -54, "offset": -1},
              "encoding": {
                "x": {"field": "x", "type": "quantitative", "scale": {"domain": [-1.2, 1.2], "nice": false},
                  "axis": {"values": [-1, 0, 1], "labelExpr": "toString(datum.value)", "title": "Rel. Coord., z (mm)"}}
              },
              "layer": [
                {
                  "encoding": {
                    "y": {"field": "y", "type": "quantitative", "scale": {"domain": [0, 0.28], "nice": false},
                      "axis": {"values": [0, 0.1, 0.2], "format": "~g", "title": "Run duration bias, Bτ(z)"}}
                  },
                  "layer": [
                    {"data": {"name": "e"}, "transform": [{"filter": "datum.s == 'dur'"}], "mark": {"type": "area", "color": "#c8c8c8"},
                      "encoding": {"y": {"field": "lo", "type": "quantitative"}, "y2": {"field": "hi"}}},
                    {"data": {"name": "e"}, "transform": [{"filter": "datum.s == 'dur'"}], "mark": {"type": "line", "color": "#000000", "strokeWidth": 1.8}},
                    {"data": {"name": "e_div"}, "mark": {"type": "rule", "color": "#000000", "strokeWidth": 2, "strokeDash": [7, 5]},
                      "encoding": {"y": null}},
                    {"data": {"values": [{"t": "B"}]}, "mark": {"type": "text", "font": "Liberation Sans", "fontSize": 15, "baseline": "alphabetic", "dy": -7, "color": "#3ddf78"},
                      "encoding": {"x": {"datum": -0.92}, "y": {"datum": 0.28}, "text": {"field": "t"}}},
                    {"data": {"values": [{"t": "M"}]}, "mark": {"type": "text", "font": "Liberation Sans", "fontSize": 15, "baseline": "alphabetic", "dy": -7, "color": "#2aa65c"},
                      "encoding": {"x": {"datum": 0}, "y": {"datum": 0.28}, "text": {"field": "t"}}},
                    {"data": {"values": [{"t": "F"}]}, "mark": {"type": "text", "font": "Liberation Sans", "fontSize": 15, "baseline": "alphabetic", "dy": -7, "color": "#1f6b45"},
                      "encoding": {"x": {"datum": 0.98}, "y": {"datum": 0.28}, "text": {"field": "t"}}}
                  ]
                },
                {
                  "data": {"name": "e"},
                  "transform": [{"filter": "datum.s == 'len'"}],
                  "encoding": {
                    "y": {"field": "y", "type": "quantitative", "scale": {"domain": [0, 0.27], "nice": false},
                      "axis": {"orient": "right", "values": [0, 0.1, 0.2], "format": "~g", "title": "Run length bias, Bl(z)", "titleAngle": 270, "titleBaseline": "top",
                        "labelColor": "#1a8cf0", "titleColor": "#1a8cf0", "domainColor": "#1a8cf0", "tickColor": "#1a8cf0"}}
                  },
                  "layer": [
                    {"mark": {"type": "area", "color": "#a6d3f7", "opacity": 0.85}, "encoding": {"y": {"field": "lo", "type": "quantitative"}, "y2": {"field": "hi"}}},
                    {"mark": {"type": "line", "color": "#1a8cf0", "strokeWidth": 1.8}}
                  ]
                }
              ],
              "resolve": {"scale": {"y": "independent"}}
            }
          ]
        },
        {
          "bounds": "flush",
          "spacing": 0,
          "resolve": {"scale": {"color": "independent", "strokeDash": "independent", "size": "independent"}},
          "hconcat": [
            {
              "width": 195,
              "height": 179,
              "title": {"text": "F", "dx": -72, "offset": 3},
              "data": {"name": "f"},
              "mark": {"type": "line", "strokeWidth": 1.8},
              "encoding": {
                "x": {"field": "t", "type": "quantitative", "scale": {"domain": [0, 9.45], "nice": false}, "axis": {"values": [0, 4, 8], "title": "Time (min)", "titlePadding": -2}},
                "y": {"field": "y", "type": "quantitative", "scale": {"domain": [-0.9, 0.82], "nice": false, "zero": false},
                  "axis": {"values": [-0.5, 0, 0.5], "labelExpr": "toString(datum.value)", "title": "Rel. Coord., z (mm)"}},
                "color": {"field": "z", "type": "nominal", "scale": {"domain": ["B", "M", "F"], "range": ["#3ddf78", "#2aa65c", "#1f6b45"]}, "legend": null}
              }
            },
            {"width": 111, "height": 10, "data": {"values": []}, "mark": "point"},
            {
              "width": 207.3,
              "height": 179,
              "title": {"text": "G", "dx": -74, "offset": 10.7},
              "data": {"name": "g"},
              "encoding": {
                "x": {"field": "t", "type": "quantitative", "scale": {"domain": [0, 9.18], "nice": false}, "axis": {"values": [0, 4, 8], "title": "Time (min)", "titlePadding": -2}},
                "y": {"field": "y", "type": "quantitative", "scale": {"domain": [0, 0.563], "nice": false},
                  "axis": {"values": [0, 0.2, 0.4], "format": "~g", "domain": false, "title": "MSD (mm²)"}}
              },
              "layer": [
                {"transform": [{"filter": "datum.s == 'dur'"}], "mark": {"type": "area", "color": "#c4c4c4"},
                  "encoding": {"y": {"field": "lo", "type": "quantitative"}, "y2": {"field": "hi"}}},
                {"transform": [{"filter": "datum.s == 'len'"}], "mark": {"type": "area", "color": "#a6d3f7"},
                  "encoding": {"y": {"field": "lo", "type": "quantitative"}, "y2": {"field": "hi"}}},
                {"transform": [{"filter": "datum.s == 'dur'"}], "mark": {"type": "line", "color": "#000000", "strokeWidth": 1.8}},
                {"transform": [{"filter": "datum.s == 'len'"}], "mark": {"type": "line", "color": "#1a8cf0", "strokeWidth": 1.8}},
                {"data": {"values": [{}]}, "mark": {"type": "rule", "color": "#000000", "strokeWidth": 1.5},
                  "encoding": {"x": {"datum": 0}, "y": {"datum": 0}, "y2": {"datum": 0.5}}}
              ]
            }
          ]
        }
      ]
    }
  ],
  "config": {
    "font": "Liberation Serif",
    "view": {"stroke": null},
    "axis": {
      "labelFont": "Liberation Serif", "titleFont": "Liberation Serif", "labelFontSize": 13, "titleFontSize": 19,
      "titleFontWeight": "normal", "labelColor": "#000000", "titleColor": "#000000", "domainColor": "#000000",
      "tickColor": "#000000", "domainWidth": 1.5, "tickWidth": 1.2, "tickSize": 3, "grid": false,
      "labelPadding": 2, "titlePadding": 0, "labelFlush": false, "labelOverlap": false
    },
    "title": {"font": "Liberation Serif", "fontSize": 22, "fontWeight": "normal", "anchor": "start", "frame": "group", "color": "#000000", "baseline": "alphabetic"}
  }
}
